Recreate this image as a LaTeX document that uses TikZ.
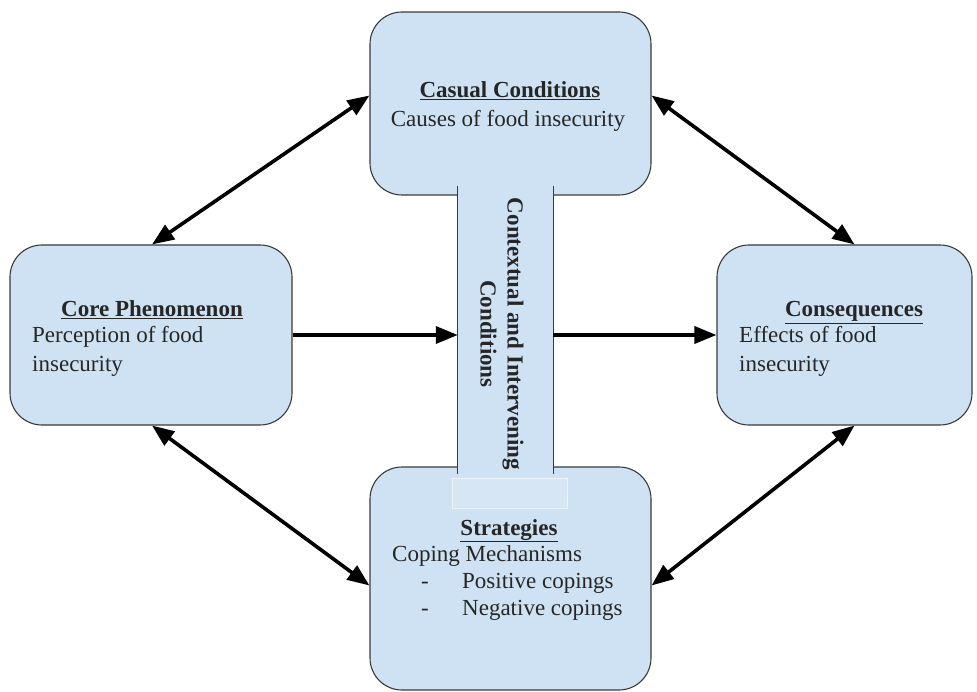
\documentclass[tikz,border=0pt]{standalone}
\usepackage{fontspec}
\setmainfont{Liberation Serif}
\usetikzlibrary{arrows.meta}
\definecolor{boxfill}{HTML}{CFE2F3}
\definecolor{boxline}{HTML}{3A3A3A}
\definecolor{txt}{HTML}{262626}
\tikzset{
  box/.style={draw=boxline, line width=1.1pt, fill=boxfill, rounded corners=32pt, inner sep=0pt},
  lbl/.style={text=txt, font=\fontsize{23}{28}\selectfont, inner sep=0pt},
  ttl/.style={lbl, font=\fontsize{23}{28}\selectfont\bfseries},
  arr/.style={line width=3.6pt, black, {Triangle[length=22pt,width=17pt]}-{Triangle[length=22pt,width=17pt]}},
  arrone/.style={line width=3.6pt, black, -{Triangle[length=22pt,width=17pt]}}
}
\begin{document}
\begin{tikzpicture}[x=1pt,y=-1pt]
\useasboundingbox (0,0) rectangle (977,692);
% boxes
\node[box, minimum width=281pt, minimum height=183pt] (top) at (510.5,103.5) {};
\node[box, minimum width=281pt, minimum height=223pt] (bottom) at (510.5,578.5) {};
\node[box, minimum width=282pt, minimum height=180pt] (left) at (151,335) {};
\node[box, minimum width=255pt, minimum height=180pt] (right) at (844.5,335) {};
% central bar
\node[fill=boxfill, minimum width=95pt, minimum height=287pt, inner sep=0pt] (bar) at (505.5,330) {};
\draw[boxline, line width=1.1pt] (bar.north west) -- (bar.south west);
\draw[boxline, line width=1.1pt] (bar.north east) -- (bar.south east);
\node[draw=white!60!boxfill, fill=white!15!boxfill, line width=0.5pt, minimum width=115pt, minimum height=30pt, inner sep=0pt] (ghost) at (509.5,493) {};
\node[ttl, rotate=-90, align=center] (bartxt) at (502,334) {Contextual and Intervening\\[-1pt]Conditions};
% texts top
\node[ttl, anchor=base] (toptitle) at (510,98) {\underline{Casual Conditions}};
\node[lbl, anchor=base] (topbody) at (508,127) {Causes of food insecurity};
% left
\node[ttl, anchor=base] (lefttitle) at (152,317) {\underline{Core Phenomenon}};
\node[lbl, anchor=base west] (leftb1) at (32,343) {Perception of food};
\node[lbl, anchor=base west] (leftb2) at (32,372) {insecurity};
% right
\node[ttl, anchor=base] (righttitle) at (854,317) {\underline{Consequences}};
\node[lbl, anchor=base west] (rightb1) at (739,343) {Effects of food};
\node[lbl, anchor=base west] (rightb2) at (739,372) {insecurity};
% bottom
\node[ttl, anchor=base] (bottitle) at (509,535) {\underline{Strategies}};
\node[lbl, anchor=base west] (botb1) at (392,561) {Coping Mechanisms};
\node[lbl, anchor=base west] (dash1) at (421,588) {-};
\node[lbl, anchor=base west] (botb2) at (462,588) {Positive copings};
\node[lbl, anchor=base west] (dash2) at (421,615) {-};
\node[lbl, anchor=base west] (botb3) at (462,615) {Negative copings};
% arrows
\draw[arr] ([xshift=1pt]left.north) -- ([yshift=8pt]top.west);
\draw[arr] ([yshift=8pt]top.east) -- ([xshift=10pt]right.north);
\draw[arr] ([xshift=1pt]left.south) -- ([yshift=-7pt]bottom.west);
\draw[arr] ([xshift=10pt]right.south) -- ([yshift=-7pt]bottom.east);
\draw[arrone] (left.east) -- (left.east -| bar.west);
\draw[arrone] (left.east -| bar.east) -- (right.west);
\end{tikzpicture}
\end{document}
